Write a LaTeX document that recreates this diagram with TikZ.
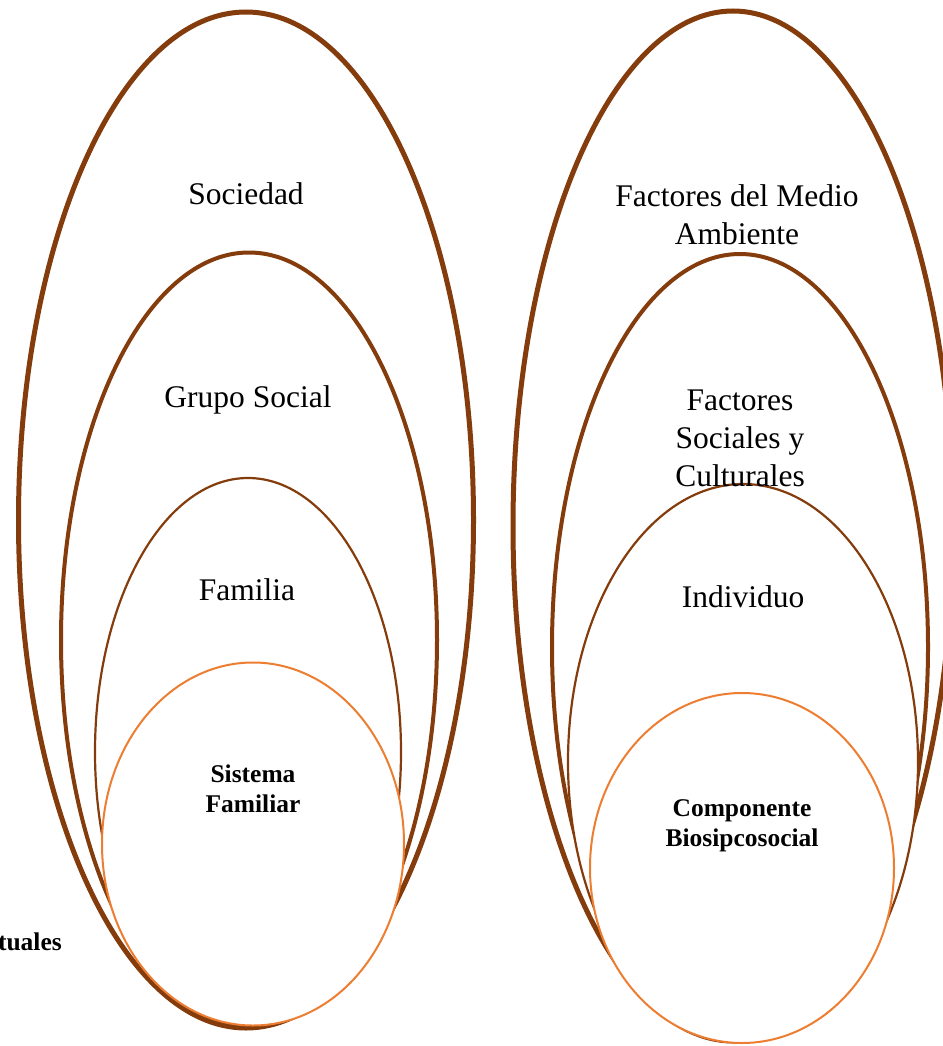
\documentclass[tikz,border=0pt]{standalone}
\usepackage{fontspec}
\setmainfont{Liberation Serif}
\usetikzlibrary{shapes.geometric}
\definecolor{brownline}{HTML}{843C0C}
\definecolor{orangeline}{HTML}{ED7D31}
\begin{document}
\begin{tikzpicture}[x=1pt,y=-1pt,
  ring/.style={ellipse,draw=brownline,fill=white,inner sep=0pt,outer sep=0pt},
  ringA/.style={ring,line width=5pt},
  ringB/.style={ring,line width=4pt},
  ringC/.style={ring,line width=2.2pt},
  ringD/.style={ellipse,draw=orangeline,fill=white,line width=2pt,inner sep=0pt,outer sep=0pt},
  lbl/.style={align=center,font=\fontsize{31.5}{38}\selectfont,inner sep=0pt},
  blbl/.style={align=center,font=\fontsize{25.5}{30.5}\selectfont\bfseries,inner sep=0pt}]
\useasboundingbox (0,0) rectangle (942,1046);
% left group
\node[ringA,minimum width=455pt,minimum height=1016pt] (soc) at (246,520) {};
\node[ringB,minimum width=376pt,minimum height=775pt] (gru) at (249,640) {};
\node[ringC,minimum width=306pt,minimum height=548pt] (fam) at (248,752) {};
\node[ringD,minimum width=302pt,minimum height=363pt] (sis) at (253,844) {};
% right group
\node[ringA,minimum width=440pt,minimum height=1030pt] (fma) at (733,526) {};
\node[ringB,minimum width=376pt,minimum height=786pt] (fsc) at (740,647) {};
\node[ringC,minimum width=350pt,minimum height=556pt] (ind) at (743,762) {};
\node[ringD,minimum width=304pt,minimum height=350pt] (cbp) at (742,868) {};
% labels
\node[lbl] (tsoc) at (246,194) {Sociedad};
\node[lbl] (tgru) at (248,400) {Grupo Social};
\node[lbl] (tfam) at (247,590) {Familia};
\node[blbl] (tsis) at (253,789) {Sistema\\Familiar};
\node[lbl] (tfma) at (737,215) {Factores del Medio\\Ambiente};
\node[lbl] (tfsc) at (740,438) {Factores\\Sociales y\\Culturales};
\node[lbl] (tind) at (743,597) {Individuo};
\node[blbl] (tcbp) at (742,826) {Componente\\Biosipcosocial};
\node[blbl,anchor=east] (ttua) at (62,942) {tuales};
\end{tikzpicture}
\end{document}
